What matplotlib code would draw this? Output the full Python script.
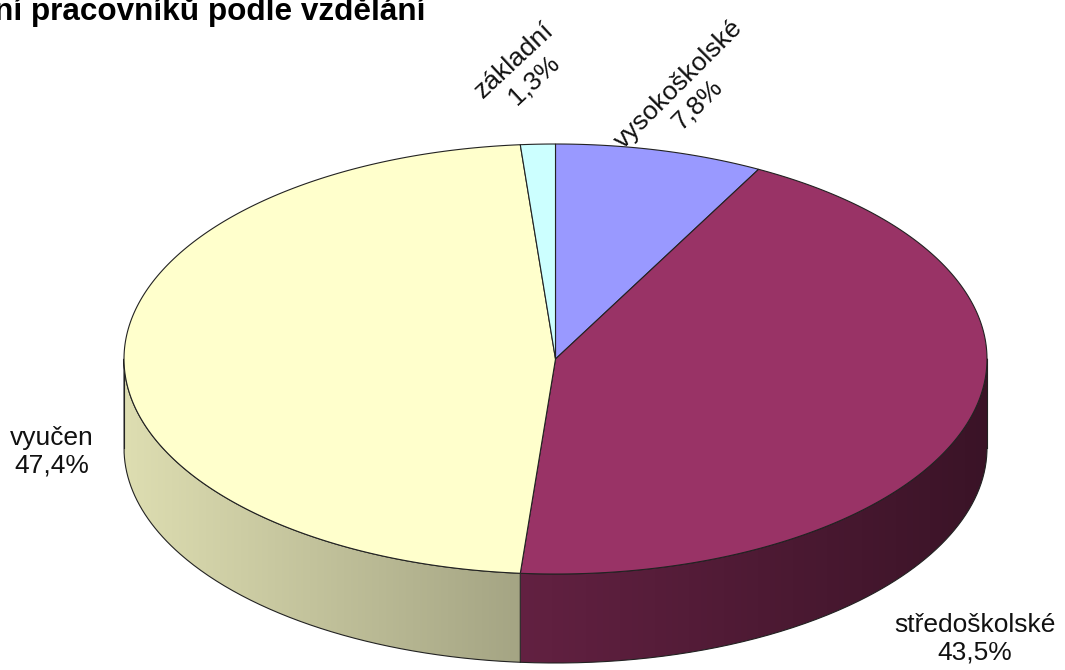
import numpy as np
import matplotlib.pyplot as plt
from matplotlib.patches import Polygon
from matplotlib.colors import to_rgb

# data
labels = ['vysokoškolské', 'středoškolské', 'vyučen', 'základní']
shares = [7.8, 43.5, 47.4, 1.3]
colors = ['#9999FF', '#993366', '#FFFFCC', '#CCFFFF']
title = 'Rozdělení pracovníků podle vzdělání'

plt.rcParams['font.family'] = ['Liberation Sans', 'DejaVu Sans']

fig = plt.figure(figsize=(10.65, 6.7), dpi=100)
ax = fig.add_axes([0, 0, 1, 1])
ax.set_xlim(0, 1065)
ax.set_ylim(670, 0)
ax.axis('off')

# pie geometry (pixel units)
cx, cy = 555.5, 359.0
ra, rb = 431.5, 215.0
depth = 89.0


def pt(theta, dz=0.0):
    t = np.radians(theta)
    return cx + ra * np.sin(t), cy - rb * np.cos(t) + dz


def arc(t0, t1, dz=0.0, n=200):
    th = np.linspace(t0, t1, n)
    x, y = pt(th, dz)
    return np.column_stack([x, y])


def shade(x):
    # horizontal shading of the side wall
    return 0.87 - (x - (cx - ra)) / (2 * ra) * 0.49


bounds = np.concatenate([[0], np.cumsum(shares)]) * 3.6

# side walls (front half: 90..270 deg clockwise from top)
for i in range(len(shares)):
    t0, t1 = bounds[i], bounds[i + 1]
    s0, s1 = max(t0, 90), min(t1, 270)
    if s1 <= s0:
        continue
    top = arc(s0, s1)
    bot = arc(s1, s0, depth)
    verts = np.vstack([top, bot])
    poly = Polygon(verts, closed=True, facecolor='none', edgecolor='none')
    ax.add_patch(poly)
    x0, x1 = verts[:, 0].min(), verts[:, 0].max()
    y0, y1 = verts[:, 1].min(), verts[:, 1].max()
    xs = np.linspace(x0, x1, 300)
    base = np.array(to_rgb(colors[i]))
    img = shade(xs)[None, :, None] * base[None, None, :]
    img = np.repeat(img, 2, axis=0)
    im = ax.imshow(img, extent=(x0, x1, y1, y0), aspect='auto',
                   interpolation='bilinear', zorder=1)
    im.set_clip_path(poly)
    ax.plot(verts[:, 0], verts[:, 1], color='#222222', lw=0.8, zorder=2)

# vertical edges at sides
for th in [90, 270]:
    x, y = pt(th)
    ax.plot([x, x], [y, y + depth], color='#222222', lw=0.8, zorder=2)

# top faces
for i in range(len(shares)):
    t0, t1 = bounds[i], bounds[i + 1]
    verts = np.vstack([[cx, cy], arc(t0, t1)])
    ax.add_patch(Polygon(verts, closed=True, facecolor=colors[i],
                         edgecolor='#222222', lw=0.8, zorder=3))

# labels
fs = 19
ax.text(688, 94, f'{labels[0]}\n{shares[0]:.1f}%'.replace('.', ','),
        rotation=45, ha='center', va='center', rotation_mode='anchor',
        multialignment='center', fontsize=fs, color='#111111', zorder=4)
ax.text(524, 70, f'{labels[3]}\n{shares[3]:.1f}%'.replace('.', ','),
        rotation=43, ha='center', va='center', rotation_mode='anchor',
        multialignment='center', fontsize=fs, color='#111111', zorder=4)
ax.text(52, 452, f'{labels[2]}\n{shares[2]:.1f}%'.replace('.', ','),
        ha='center', va='center', multialignment='center',
        fontsize=fs, color='#111111', zorder=4)
ax.text(975, 639, f'{labels[1]}\n{shares[1]:.1f}%'.replace('.', ','),
        ha='center', va='center', multialignment='center',
        fontsize=fs, color='#111111', zorder=4)

# title is partly outside the visible area, as in the source image
fig.text(425 / 1065, 1 - 20 / 670, title, ha='right', va='baseline',
         fontsize=22.7, fontweight='bold', color='black')

fig.savefig('out.png', dpi=100)
